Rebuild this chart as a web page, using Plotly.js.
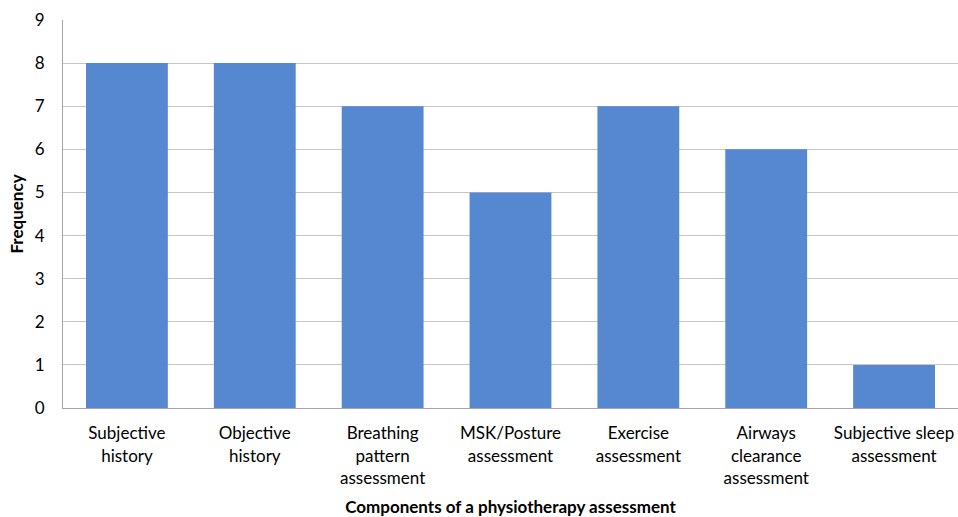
<!DOCTYPE html>
<html>
<head>
<meta charset="utf-8">
<script src="https://cdn.plot.ly/plotly-3.0.1.min.js"></script>
<style>html,body{margin:0;padding:0;background:#fff;}#chart{width:958px;height:517px;}</style>
</head>
<body>
<div id="chart"></div>
<script>
const categories = [
  "Subjective<br>history",
  "Objective<br>history",
  "Breathing<br>pattern<br>assessment",
  "MSK/Posture<br>assessment",
  "Exercise<br>assessment",
  "Airways<br>clearance<br>assessment",
  "Subjective sleep<br>assessment"
];
const frequency = [8, 8, 7, 5, 7, 6, 1];
const yTicks = [0, 1, 2, 3, 4, 5, 6, 7, 8, 9];

const fontFam = "Lato, 'Open Sans', sans-serif";

Plotly.newPlot("chart", [{
  type: "bar",
  x: categories,
  y: frequency,
  marker: {color: "#5588d0"},
  hoverinfo: "none"
}], {
  width: 958,
  height: 517,
  margin: {l: 63, r: 0, t: 20, b: 109},
  paper_bgcolor: "#fff",
  plot_bgcolor: "#fff",
  bargap: 0.36,
  showlegend: false,
  font: {family: fontFam, size: 17, color: "#000"},
  xaxis: {
    type: "category",
    showline: true,
    linecolor: "#a6a6a6",
    linewidth: 1,
    ticks: "",
    ticklabelstandoff: 10,
    tickfont: {family: fontFam, size: 17, color: "#000"},
    showgrid: false,
    zeroline: false,
    title: {text: "<b>Components of a physiotherapy assessment</b>", font: {family: fontFam, size: 17, color: "#000"}, standoff: 20}
  },
  yaxis: {
    range: [0, 9],
    tickvals: yTicks,
    showline: true,
    linecolor: "#a6a6a6",
    linewidth: 1,
    showgrid: true,
    gridcolor: "#c6c6c6",
    zeroline: false,
    ticks: "",
    ticklabelstandoff: 14,
    tickfont: {family: fontFam, size: 17, color: "#000"},
    title: {text: "<b>Frequency</b>", font: {family: fontFam, size: 17, color: "#000"}, standoff: 6}
  }
}, {displayModeBar: false, staticPlot: true});
</script>
</body>
</html>
